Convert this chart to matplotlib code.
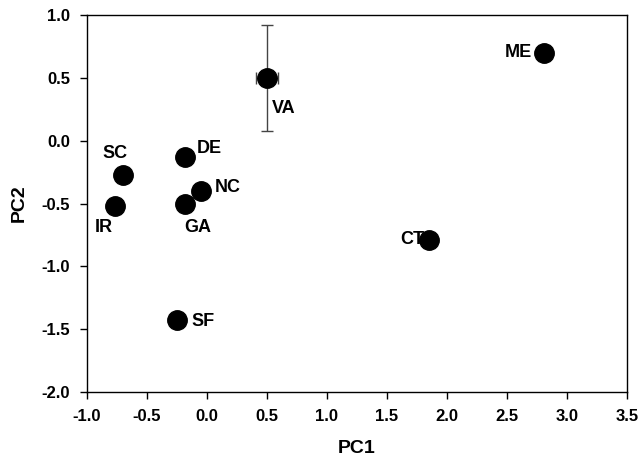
import matplotlib
matplotlib.use("Agg")
import matplotlib.pyplot as plt

plt.rcParams["font.family"] = ["Liberation Sans", "DejaVu Sans"]
plt.rcParams["font.weight"] = "bold"

sites = ["VA", "ME", "DE", "SC", "NC", "GA", "IR", "CT", "SF"]
pc1 = [0.50, 2.81, -0.18, -0.70, -0.05, -0.18, -0.77, 1.85, -0.25]
pc2 = [0.50, 0.70, -0.13, -0.27, -0.40, -0.50, -0.52, -0.79, -1.43]
# only VA has error bars
va_xerr = 0.09
va_yerr = 0.42

# label offsets in points (dx, dy, ha, va)
label_pos = {
    "VA": (3.6, -22, "left", "center"),
    "ME": (-8.5, 0, "right", "center"),
    "DE": (8.5, 6, "left", "center"),
    "SC": (-6, 15, "center", "center"),
    "NC": (10, 2.5, "left", "center"),
    "GA": (9, -17.5, "center", "center"),
    "IR": (-8, -15.5, "center", "center"),
    "CT": (-3, 0, "right", "center"),
    "SF": (10.8, -1, "left", "center"),
}

fig = plt.figure(figsize=(6.39, 4.59), dpi=100)
ax = fig.add_axes([0.136, 0.146, 0.845, 0.821])

ax.errorbar(pc1[0], pc2[0], xerr=va_xerr, yerr=va_yerr, fmt="none",
            ecolor="#444444", elinewidth=1, capsize=4, capthick=1, zorder=2)
ax.plot(pc1, pc2, "o", color="black", markersize=14, linestyle="none", zorder=3)

for s, x, y in zip(sites, pc1, pc2):
    dx, dy, ha, va = label_pos[s]
    ax.annotate(s, (x, y), xytext=(dx, dy), textcoords="offset points",
                ha=ha, va=va, fontsize=13, fontweight="bold", zorder=4)

ax.set_xlim(-1.0, 3.5)
ax.set_ylim(-2.0, 1.0)
ax.set_xticks([-1.0, -0.5, 0.0, 0.5, 1.0, 1.5, 2.0, 2.5, 3.0, 3.5])
ax.set_yticks([-2.0, -1.5, -1.0, -0.5, 0.0, 0.5, 1.0])
ax.xaxis.set_major_formatter(plt.FormatStrFormatter("%.1f"))
ax.yaxis.set_major_formatter(plt.FormatStrFormatter("%.1f"))
ax.tick_params(direction="out", length=5, width=1, labelsize=12, pad=7)
for lab in ax.get_xticklabels() + ax.get_yticklabels():
    lab.set_fontweight("bold")
for sp in ax.spines.values():
    sp.set_linewidth(1)

ax.set_xlabel("PC1", fontsize=14, fontweight="bold", labelpad=12)
ax.set_ylabel("PC2", fontsize=14, fontweight="bold", labelpad=10)

fig.savefig("out.png", dpi=100)
